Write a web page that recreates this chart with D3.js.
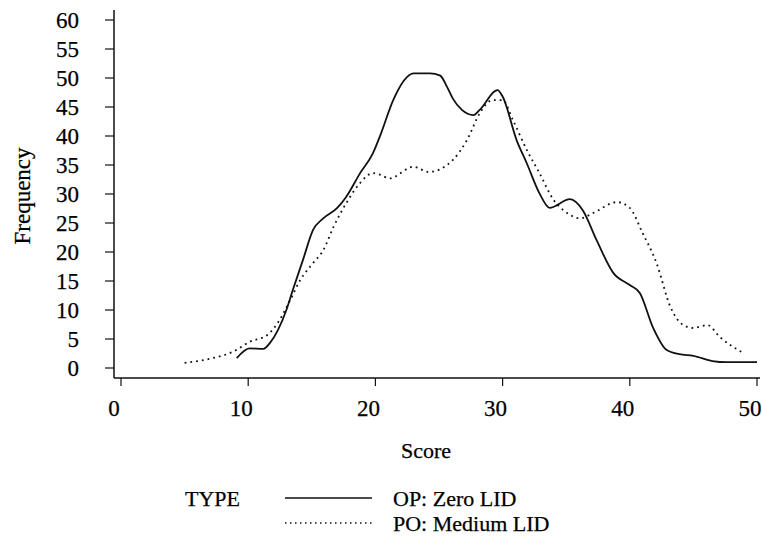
<!DOCTYPE html>
<meta charset="utf-8">
<script src="https://d3js.org/d3.v7.js"></script>
<style>
  body { margin: 0; background: #fff; }
  text { font-family: "Liberation Serif", serif; fill: #000; stroke: #000; stroke-width: 0.25; }
</style>
<svg id="chart" width="762" height="539"></svg>
<script>
  const width = 762;
  const height = 539;

  // OP: Zero LID (solid)
  const opScore = [9.1, 10.1, 11.2, 11.7, 13.0, 13.5, 14.3, 15.1, 15.9, 17.0, 17.7, 18.8, 19.8, 20.4, 21.4, 22.5, 23.0, 24.3, 25.1, 25.6, 26.1, 26.8, 27.7, 28.2, 29.6, 30.0, 31.1, 31.9, 32.9, 33.7, 35.3, 36.3, 37.4, 38.7, 40.0, 40.8, 41.8, 42.9, 43.9, 45.0, 46.5, 47.6, 50.0];
  const opFreq = [1.7, 3.4, 3.3, 4.3, 10.0, 13.4, 18.6, 23.8, 25.8, 27.6, 29.5, 33.6, 37.0, 40.2, 46.2, 50.2, 50.8, 50.8, 50.4, 48.6, 46.4, 44.5, 43.6, 44.5, 47.9, 46.8, 39.3, 35.3, 30.1, 27.6, 29.1, 27.2, 22.0, 16.4, 14.3, 12.9, 7.1, 3.1, 2.4, 2.1, 1.2, 1.0, 1.0];

  // PO: Medium LID (dotted)
  const poScore = [5.0, 7.2, 8.8, 10.1, 11.5, 12.3, 13.3, 14.1, 15.1, 15.9, 16.7, 17.7, 18.8, 19.8, 20.4, 21.1, 23.0, 24.2, 26.1, 27.2, 28.2, 29.2, 30.0, 30.8, 31.9, 32.9, 34.0, 35.1, 36.1, 37.1, 39.0, 40.0, 41.0, 42.1, 43.2, 44.2, 45.0, 46.1, 47.1, 48.9];
  const poFreq = [0.9, 1.7, 2.8, 4.5, 5.7, 7.7, 11.7, 15.2, 18.1, 20.3, 24.3, 28.4, 31.9, 33.6, 33.3, 32.7, 34.7, 33.8, 35.9, 39.3, 43.9, 46.2, 46.2, 42.8, 37.6, 33.6, 29.0, 26.7, 25.8, 26.7, 28.6, 27.6, 23.3, 18.1, 10.5, 7.4, 6.9, 7.4, 5.3, 2.6];

  const xTicks = [0, 10, 20, 30, 40, 50];
  const yTicks = [0, 5, 10, 15, 20, 25, 30, 35, 40, 45, 50, 55, 60];

  const svg = d3.select("#chart");

  const x = d3.scaleLinear().domain([0, 50]).range([121, 757]);
  const y = d3.scaleLinear().domain([0, 60]).range([368, 20]);

  // y axis
  svg.append("line")
    .attr("x1", 114).attr("x2", 114).attr("y1", 10).attr("y2", 378)
    .attr("stroke", "#111").attr("stroke-width", 1.5);

  svg.append("g").selectAll("line")
    .data(yTicks)
    .join("line")
    .attr("x1", 105).attr("x2", 114)
    .attr("y1", d => y(d)).attr("y2", d => y(d))
    .attr("stroke", "#111").attr("stroke-width", 1.2);

  svg.append("g").selectAll("text")
    .data(yTicks)
    .join("text")
    .attr("x", 79)
    .attr("y", d => y(d))
    .attr("dy", "0.35em")
    .attr("text-anchor", "end")
    .attr("font-size", 23)
    .text(d => d);

  // x axis
  svg.append("line")
    .attr("x1", 114).attr("x2", 760).attr("y1", 378).attr("y2", 378)
    .attr("stroke", "#111").attr("stroke-width", 1.5);

  svg.append("g").selectAll("line")
    .data(xTicks)
    .join("line")
    .attr("x1", d => x(d)).attr("x2", d => x(d))
    .attr("y1", 378).attr("y2", 386)
    .attr("stroke", "#111").attr("stroke-width", 1.2);

  svg.append("g").selectAll("text")
    .data(xTicks)
    .join("text")
    .attr("x", d => x(d) - 7)
    .attr("y", 416)
    .attr("text-anchor", "middle")
    .attr("font-size", 23)
    .text(d => d);

  // axis titles
  svg.append("text")
    .attr("x", 426).attr("y", 458)
    .attr("text-anchor", "middle")
    .attr("font-size", 22)
    .text("Score");

  svg.append("text")
    .attr("transform", "translate(30,196) rotate(-90)")
    .attr("text-anchor", "middle")
    .attr("font-size", 23)
    .text("Frequency");

  // curves
  const line = d3.line()
    .x(d => x(d[0]))
    .y(d => y(d[1]))
    .curve(d3.curveMonotoneX);

  svg.append("path")
    .datum(d3.zip(opScore, opFreq))
    .attr("d", line)
    .attr("fill", "none")
    .attr("stroke", "#111")
    .attr("stroke-width", 1.8);

  svg.append("path")
    .datum(d3.zip(poScore, poFreq))
    .attr("d", line)
    .attr("fill", "none")
    .attr("stroke", "#111")
    .attr("stroke-width", 1.8)
    .attr("stroke-dasharray", "1.8,4");

  // legend
  const legend = svg.append("g");
  legend.append("text").attr("x", 185).attr("y", 506).attr("font-size", 22).text("TYPE");

  legend.append("line")
    .attr("x1", 285).attr("x2", 372).attr("y1", 498).attr("y2", 498)
    .attr("stroke", "#111").attr("stroke-width", 1.6);
  legend.append("text").attr("x", 393).attr("y", 506).attr("font-size", 22).text("OP: Zero LID");

  legend.append("line")
    .attr("x1", 285).attr("x2", 372).attr("y1", 523).attr("y2", 523)
    .attr("stroke", "#111").attr("stroke-width", 1.4)
    .attr("stroke-dasharray", "1.5,3.5");
  legend.append("text").attr("x", 393).attr("y", 531).attr("font-size", 22).text("PO: Medium LID");
</script>
